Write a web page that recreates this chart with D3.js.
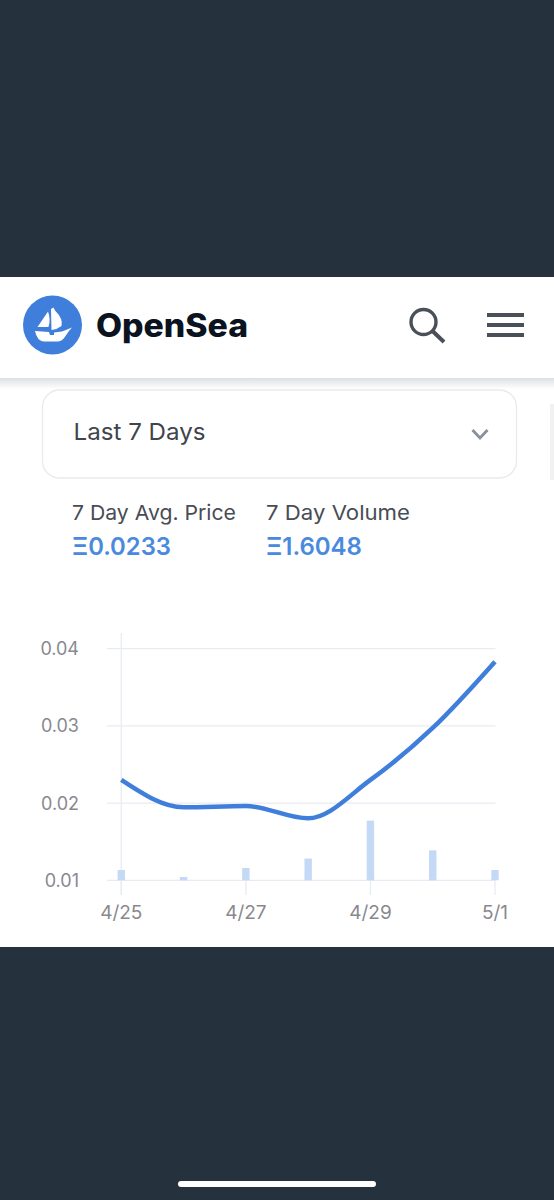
<!DOCTYPE html>
<html><head><meta charset="utf-8">
<script src="https://cdn.jsdelivr.net/npm/d3@7"></script>
<style>html,body{margin:0;padding:0;background:#26313e;overflow:hidden}svg{display:block}text{font-family:Inter,"Noto Sans",sans-serif}</style>
</head><body><svg id="c" width="554" height="1200"></svg>
<script>
const days = ["4/25","4/26","4/27","4/28","4/29","4/30","5/1"];
const price = [0.0230,0.01946,0.01962,0.01803,0.02300,0.02973,0.03832];
const volume = [0.112,0.036,0.134,0.236,0.649,0.326,0.112];
const yTicks = [0.01,0.02,0.03,0.04];
const xTickLabels = ["4/25","4/27","4/29","5/1"];
const stats = [["7 Day Avg. Price","Ξ0.0233"],["7 Day Volume","Ξ1.6048"]];

const svg = d3.select("#c");
const dark="#26313e", blue="#3f7fdb";
svg.append("rect").attr("width",554).attr("height",1200).attr("fill",dark);
const defs=svg.append("defs");
const g=defs.append("linearGradient").attr("id","sh").attr("x1",0).attr("x2",0).attr("y1",0).attr("y2",1);
g.append("stop").attr("offset",0).attr("stop-color","#dcdfe4");
g.append("stop").attr("offset",1).attr("stop-color","#ffffff");
svg.append("rect").attr("y",277).attr("width",554).attr("height",670).attr("fill","#fff");
svg.append("rect").attr("y",378).attr("width",554).attr("height",11).attr("fill","url(#sh)");
svg.append("rect").attr("x",550).attr("y",404).attr("width",4).attr("height",76).attr("fill","#f1f1f2");
svg.append("rect").attr("x",178).attr("y",1181).attr("width",198).attr("height",6).attr("rx",3).attr("fill","#fff");

// header
svg.append("circle").attr("cx",52.5).attr("cy",325).attr("r",29.5).attr("fill",blue);
svg.append("path").attr("fill","#fff").attr("d","M37.5 327L48 311.5Q51 319 48.5 327Z");
svg.append("path").attr("fill","#fff").attr("d","M51 309L53.5 307.5L55 310.5Q63.5 319 61.5 326Q57 329.5 51.5 330Z");
svg.append("path").attr("fill","#fff").attr("d","M35 331L49 332L50 335L54 335L54 332.5L62 331.5Q66 330 72 327.5Q68.5 331 65.5 336Q62.5 341 58 341.5L44 341.5Q37 341 35 331Z");
svg.append("text").attr("x",96).attr("y",337).attr("font-size",32).attr("font-weight",800).attr("fill","#0b1220").attr("textLength",152).attr("lengthAdjust","spacingAndGlyphs").text("OpenSea");
const ic="#4a5058";
svg.append("circle").attr("cx",423.5).attr("cy",322).attr("r",12.5).attr("fill","none").attr("stroke",ic).attr("stroke-width",3.4);
svg.append("line").attr("x1",432.5).attr("y1",331).attr("x2",444).attr("y2",342).attr("stroke",ic).attr("stroke-width",4);
[315,325,335].forEach(y=>svg.append("rect").attr("x",487).attr("y",y-2).attr("width",37).attr("height",4).attr("fill",ic));

// select box
svg.append("rect").attr("x",42.5).attr("y",390).attr("width",474).attr("height",88).attr("rx",17).attr("fill","#fff").attr("stroke","#e8eaed").attr("stroke-width",1.3);
svg.append("text").attr("x",73.5).attr("y",440).attr("font-size",23.5).attr("fill","#40444c").attr("textLength",132).attr("lengthAdjust","spacingAndGlyphs").text("Last 7 Days");
svg.append("path").attr("d","M472.5 430L480 438L487.5 430").attr("fill","none").attr("stroke","#8a9097").attr("stroke-width",2.8);

// stats
const statX=[72,266], statW=[164,144], valW=[99,96];
stats.forEach((s,i)=>{
  svg.append("text").attr("x",statX[i]).attr("y",520).attr("font-size",20.5).attr("fill","#484c54").attr("textLength",statW[i]).attr("lengthAdjust","spacingAndGlyphs").text(s[0]);
  svg.append("text").attr("x",statX[i]).attr("y",555).attr("font-size",24.5).attr("font-weight",600).attr("fill","#4a8ade").attr("textLength",valW[i]).attr("lengthAdjust","spacingAndGlyphs").text(s[1]);
});

// chart
const idx=d3.scalePoint().domain(days).range([121.3,495]);
const y=d3.scaleLinear().domain([0.01,0.04]).range([880.3,648.7]);
const yVol=d3.scaleLinear().domain([0,2.518]).range([880.3,648.7]);
const grid="#e8ebf2";
yTicks.forEach(t=>{
  svg.append("line").attr("x1",107).attr("x2",495.5).attr("y1",y(t)).attr("y2",y(t)).attr("stroke",grid).attr("stroke-width",1.3);
  svg.append("text").attr("x",79).attr("y",y(t)+6.5).attr("text-anchor","end").attr("font-size",18).attr("fill","#88898e").text(t.toFixed(2));
});
svg.append("line").attr("x1",idx("4/25")).attr("x2",idx("4/25")).attr("y1",633).attr("y2",895).attr("stroke",grid).attr("stroke-width",1.3);
xTickLabels.forEach(t=>{
  svg.append("line").attr("x1",idx(t)).attr("x2",idx(t)).attr("y1",880).attr("y2",895).attr("stroke",grid).attr("stroke-width",1.3);
  svg.append("text").attr("x",idx(t)).attr("y",919).attr("text-anchor","middle").attr("font-size",19).attr("fill","#88898e").text(t);
});
svg.append("g").selectAll("rect").data(days).join("rect")
  .attr("x",d=>idx(d)-3.7).attr("width",7.4)
  .attr("y",(d,i)=>yVol(volume[i])).attr("height",(d,i)=>yVol(0)-yVol(volume[i]))
  .attr("fill","#c3d9f5");
const line=d3.line().x((d,i)=>idx(days[i])).y(d=>y(d)).curve(d3.curveMonotoneX);
svg.append("path").attr("d",line(price)).attr("fill","none").attr("stroke",blue).attr("stroke-width",4.5);
</script></body></html>
